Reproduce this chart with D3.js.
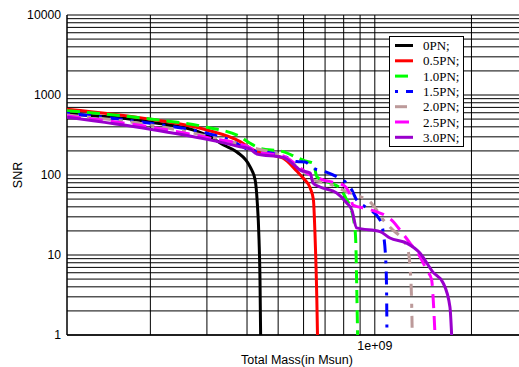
<!DOCTYPE html>
<html>
<head>
<meta charset="UTF-8">
<title>SNR vs Total Mass</title>
<script src="https://cdn.jsdelivr.net/npm/d3@7"></script>
<style>
  body { margin: 0; background: #fff; }
  svg { display: block; }
</style>
</head>
<body>
<div id="chart"></div>
<script>
// series names (legend order)
var names = ["0PN;", "0.5PN;", "1.0PN;", "1.5PN;", "2.0PN;", "2.5PN;", "3.0PN;"];

// total mass (Msun) and SNR for each PN order
var mass_0PN = [1.1e8, 2.0e8, 3.0e8, 3.38e8, 3.72e8, 4.09e8, 4.24e8, 4.30e8, 4.36e8, 4.39e8, 4.41e8];
var snr_0PN  = [579, 460, 316, 237, 194, 126, 86.6, 48.7, 15.4, 4.9, 1];

var mass_05PN = [1.1e8, 2.0e8, 3.0e8, 3.805e8, 4.09e8, 4.29e8, 5.18e8, 5.71e8, 5.98e8, 6.29e8, 6.44e8, 6.51e8, 6.60e8, 6.63e8];
var snr_05PN  = [663, 497, 365, 261, 216, 196, 162, 112, 91.7, 68.8, 48.7, 18.8, 2.7, 1];

var mass_10PN = [1.1e8, 2.0e8, 3.0e8, 3.805e8, 4.09e8, 4.39e8, 5.18e8, 5.71e8, 6.06e8, 6.44e8, 6.60e8, 7.26e8, 7.79e8, 8.18e8, 8.37e8, 8.68e8, 8.74e8, 8.78e8, 8.84e8];
var snr_10PN  = [637, 501, 395, 301, 249, 216, 196, 166, 150, 140, 95, 79.4, 68.8, 48.7, 41, 20.5, 11.5, 4.5, 1];

var mass_15PN = [1.1e8, 2.0e8, 3.0e8, 3.54e8, 4.09e8, 4.50e8, 5.18e8, 5.71e8, 6.06e8, 6.42e8, 7.0e8, 7.61e8, 8.08e8, 8.48e8, 8.78e8, 9.32e8, 1.038e9, 1.063e9, 1.084e9, 1.089e9, 1.091e9];
var snr_15PN  = [590, 443, 332, 274, 205, 196, 173, 147, 145, 122, 110, 95.2, 82.5, 64.9, 48.7, 40.2, 27.4, 18.8, 7.1, 2.7, 1];

var mass_20PN = [1.1e8, 2.0e8, 3.0e8, 4.09e8, 5.18e8, 5.71e8, 6.44e8, 7.09e8, 8.18e8, 8.99e8, 9.66e8, 1.014e9, 1.063e9, 1.139e9, 1.224e9, 1.269e9, 1.287e9, 1.302e9, 1.308e9];
var snr_20PN  = [562, 422, 307, 224, 168, 130, 86.6, 79.4, 61.8, 53.6, 46.4, 36.5, 27.4, 20.5, 15.4, 11.5, 7.1, 2.7, 1];

var mass_25PN = [1.1e8, 2.0e8, 3.0e8, 4.09e8, 4.29e8, 5.18e8, 5.71e8, 6.14e8, 6.91e8, 7.98e8, 8.37e8, 8.55e8, 9.66e8, 1.142e9, 1.198e9, 1.287e9, 1.382e9, 1.451e9, 1.503e9, 1.521e9, 1.540e9];
var snr_25PN  = [546, 398, 294, 218, 194, 173, 133, 106, 86.6, 74.9, 56.2, 42, 37, 26.1, 20.5, 14.1, 9.5, 6.5, 4.9, 2.7, 1];

var mass_30PN = [1.1e8, 2.0e8, 3.0e8, 3.805e8, 4.09e8, 4.29e8, 5.18e8, 5.71e8, 5.85e8, 6.29e8, 6.42e8, 6.75e8, 7.61e8, 8.18e8, 8.48e8, 8.78e8, 1.038e9, 1.115e9, 1.257e9, 1.382e9, 1.517e9, 1.631e9, 1.714e9, 1.735e9];
var snr_30PN  = [526, 373, 279, 226, 211, 183, 166, 125, 115, 106, 79.4, 70.8, 59.6, 44.7, 36.5, 21.8, 19.6, 16.3, 14.1, 10.6, 6.1, 4.5, 2.24, 1];

// tick labels
var yTickValues = [1, 10, 100, 1000, 10000];
var xTickValues = [1e9];

var masses = [mass_0PN, mass_05PN, mass_10PN, mass_15PN, mass_20PN, mass_25PN, mass_30PN];
var snrs = [snr_0PN, snr_05PN, snr_10PN, snr_15PN, snr_20PN, snr_25PN, snr_30PN];

// styles
var colors = ["#000000", "#ff0000", "#00ff00", "#0000ff", "#bc9a9a", "#ff00ff", "#9900cc"];
var dashes = [null, null, "13,7", "3,8,13,8", "12,8,4,8", "14,8", null];

var w = 519, h = 367;
var padL = 67, padT = 15, padB = 335, padR = 528;

var svg = d3.select("#chart").append("svg")
    .attr("width", w)
    .attr("height", h);

var x = d3.scaleLog().domain([1.1e8, 3e9]).range([padL, padR]);
var y = d3.scaleLog().domain([1, 10000]).range([padB, padT]);

// grid: every k*10^n
var yGrid = [];
for (var p = 0; p < 4; p++) {
    for (var k = 1; k < 10; k++) yGrid.push(k * Math.pow(10, p));
}
yGrid.push(10000);
var xGrid = [2e8, 3e8, 4e8, 5e8, 6e8, 7e8, 8e8, 9e8, 1e9, 2e9];

var grid = svg.append("g");
grid.selectAll("line.hg")
    .data(yGrid)
    .enter()
    .append("line")
    .attr("class", "hg")
    .attr("x1", padL).attr("x2", w)
    .attr("y1", function(d) { return y(d); })
    .attr("y2", function(d) { return y(d); })
    .attr("stroke", "#000")
    .attr("stroke-width", 1);

grid.selectAll("line.vg")
    .data(xGrid)
    .enter()
    .append("line")
    .attr("class", "vg")
    .attr("x1", function(d) { return x(d); })
    .attr("x2", function(d) { return x(d); })
    .attr("y1", padT).attr("y2", padB)
    .attr("stroke", "#000")
    .attr("stroke-width", 1);

// axes frame
svg.append("line").attr("x1", padL).attr("x2", padL).attr("y1", padT).attr("y2", padB)
    .attr("stroke", "#000").attr("stroke-width", 1.5);
svg.append("line").attr("x1", padL).attr("x2", w).attr("y1", padB).attr("y2", padB)
    .attr("stroke", "#000").attr("stroke-width", 1.5);

// tick labels
svg.selectAll("text.yt")
    .data(yTickValues)
    .enter()
    .append("text")
    .attr("class", "yt")
    .attr("x", padL - 6)
    .attr("y", function(d) { return y(d); })
    .attr("dy", "0.36em")
    .attr("text-anchor", "end")
    .attr("font-family", "Liberation Sans, Arial, sans-serif")
    .attr("font-size", "12.2px")
    .text(function(d) { return d; });

svg.selectAll("text.xt")
    .data(xTickValues)
    .enter()
    .append("text")
    .attr("class", "xt")
    .attr("x", function(d) { return x(d); })
    .attr("y", 350)
    .attr("text-anchor", "middle")
    .attr("font-family", "Liberation Sans, Arial, sans-serif")
    .attr("font-size", "12.5px")
    .text("1e+09");

svg.append("text")
    .attr("x", 297)
    .attr("y", 364)
    .attr("text-anchor", "middle")
    .attr("font-family", "Liberation Sans, Arial, sans-serif")
    .attr("font-size", "12.5px")
    .text("Total Mass(in Msun)");

svg.append("text")
    .attr("transform", "translate(22,175) rotate(-90)")
    .attr("text-anchor", "middle")
    .attr("font-family", "Liberation Sans, Arial, sans-serif")
    .attr("font-size", "12.5px")
    .text("SNR");

// curves
var line = d3.line()
    .x(function(d) { return x(d[0]); })
    .y(function(d) { return y(d[1]); })
    .curve(d3.curveMonotoneX);

svg.append("clipPath").attr("id", "clip")
    .append("rect").attr("x", padL).attr("y", padT).attr("width", w - padL).attr("height", padB - padT);

var curves = svg.append("g").attr("clip-path", "url(#clip)");
names.forEach(function(n, i) {
    var pts = d3.zip(masses[i], snrs[i]);
    curves.append("path")
        .datum(pts)
        .attr("d", line)
        .attr("fill", "none")
        .attr("stroke", colors[i])
        .attr("stroke-width", 3)
        .attr("stroke-dasharray", dashes[i]);
});

// legend
var lg = svg.append("g");
lg.append("rect")
    .attr("x", 389.5).attr("y", 36.5)
    .attr("width", 74).attr("height", 110)
    .attr("fill", "#fff")
    .attr("stroke", "#000")
    .attr("stroke-width", 1);

var rows = lg.selectAll("g.row")
    .data(names)
    .enter()
    .append("g")
    .attr("class", "row")
    .attr("transform", function(d, i) { return "translate(0," + (45.5 + i * 15.3) + ")"; });

rows.append("line")
    .attr("x1", 395).attr("x2", 413)
    .attr("y1", 0).attr("y2", 0)
    .attr("stroke", function(d, i) { return colors[i]; })
    .attr("stroke-width", 3)
    .attr("stroke-dasharray", function(d, i) { return dashes[i]; });

rows.append("text")
    .attr("x", 423)
    .attr("y", 0)
    .attr("dy", "0.35em")
    .attr("font-family", "Liberation Serif, Times New Roman, serif")
    .attr("font-size", "13px")
    .text(function(d) { return d; });
</script>
</body>
</html>
